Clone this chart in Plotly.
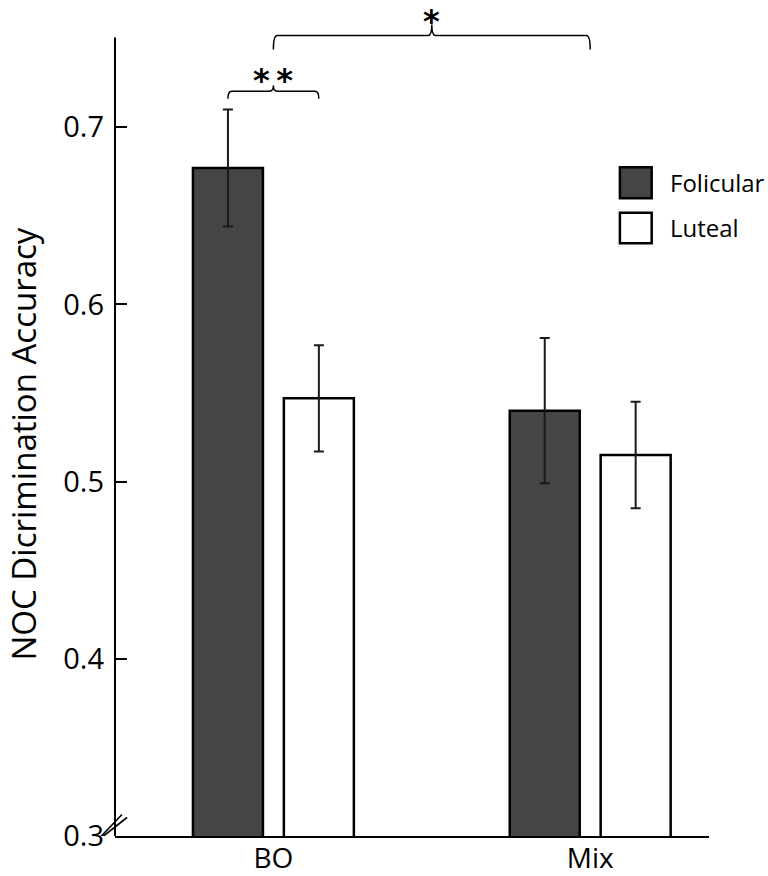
import plotly.graph_objects as go

categories = ["BO", "Mix"]
series_names = ["Folicular", "Luteal"]
folicular = [0.677, 0.540]
folicular_err = [0.033, 0.041]
luteal = [0.547, 0.515]
luteal_err = [0.030, 0.030]
y_ticks = [0.3, 0.4, 0.5, 0.6, 0.7]
y_tick_labels = ["0.3", "0.4", "0.5", "0.6", "0.7"]
y_title = "NOC Dicrimination Accuracy"

FONT = "Open Sans"
STAR_FONT = "DejaVu Sans"
BARGAP = 0.426
BARGROUPGAP = 0.23
slot = (1 - BARGAP) / 2
xpos = list(range(len(categories)))

fig = go.Figure()
fig.add_trace(go.Bar(
    x=xpos, y=folicular, name=series_names[0],
    marker=dict(color="#454545", line=dict(color="black", width=2.5)),
    error_y=dict(type="data", array=folicular_err, color="#1a1a1a", thickness=2, width=5),
    showlegend=False,
))
fig.add_trace(go.Bar(
    x=xpos, y=luteal, name=series_names[1],
    marker=dict(color="white", line=dict(color="black", width=2.5)),
    error_y=dict(type="data", array=luteal_err, color="#1a1a1a", thickness=2, width=5),
    showlegend=False,
))

YMIN = 0.3
YMAX = 0.3 + 826 / 1772.0

shapes = []
# y axis line (stops at the top of the data region)
shapes.append(dict(type="line", xref="paper", yref="y", x0=0, x1=0, y0=0.3, y1=0.7506,
                   line=dict(color="black", width=2)))
# axis break marks
for (ax0, ay0, ax1, ay1) in [(-16, -2.5, 7, 21.5), (-12, -0.5, 12, 18.5)]:
    shapes.append(dict(type="line", xref="paper", yref="y",
                       xsizemode="pixel", xanchor=0, ysizemode="pixel", yanchor=0.3,
                       x0=ax0, x1=ax1, y0=ay0, y1=ay1,
                       line=dict(color="black", width=1.6)))


def brace(x0, x1, yline, yend, ytop, rx=0.012):
    xm = (x0 + x1) / 2
    return (f"M{x0},{yend} Q{x0},{yline} {x0 + rx},{yline} "
            f"L{xm - rx},{yline} Q{xm},{yline} {xm},{ytop} "
            f"Q{xm},{yline} {xm + rx},{yline} "
            f"L{x1 - rx},{yline} Q{x1},{yline} {x1},{yend}")


# ** between BO bars
bo_f = xpos[0] - slot / 2
bo_l = xpos[0] + slot / 2
shapes.append(dict(type="path", xref="x", yref="y",
                   path=brace(bo_f, bo_l, 0.7203, 0.7160, 0.7235),
                   line=dict(color="black", width=1.5)))
# * between BO and Mix
shapes.append(dict(type="path", xref="x", yref="y",
                   path=brace(xpos[0], xpos[1], 0.7517, 0.7438, 0.7580),
                   line=dict(color="black", width=1.5)))

# custom legend boxes
legend_fills = ["#454545", "white"]
legend_boxes = [(0.8095, 0.772), (0.7546, 0.7176)]
annotations = []
for name, fill, (yt, yb) in zip(series_names, legend_fills, legend_boxes):
    shapes.append(dict(type="rect", xref="paper", yref="paper",
                       x0=0.850, x1=0.9035, y0=yb, y1=yt,
                       fillcolor=fill, line=dict(color="black", width=2.5)))
    annotations.append(dict(xref="paper", yref="paper", x=0.931, y=(yt + yb) / 2,
                            text=name, showarrow=False, xanchor="left", yanchor="middle",
                            font=dict(family=FONT, size=24, color="black")))

annotations.append(dict(xref="x", yref="y", x=(bo_f + bo_l) / 2, y=0.7235,
                        text="<b>*\u2009*</b>", yshift=27,
                        showarrow=False, xanchor="center", yanchor="top",
                        font=dict(family=STAR_FONT, size=32, color="black")))
annotations.append(dict(xref="x", yref="y", x=(xpos[0] + xpos[1]) / 2, y=0.7580,
                        text="<b>*</b>", yshift=24,
                        showarrow=False, xanchor="center", yanchor="top",
                        font=dict(family=STAR_FONT, size=32, color="black")))
# y-axis title
annotations.append(dict(xref="paper", yref="paper", x=-0.154, y=0.4746, text=y_title,
                        textangle=-90, showarrow=False, xanchor="center", yanchor="middle",
                        font=dict(family=FONT, size=33, color="black")))

fig.update_layout(
    width=768, height=876,
    margin=dict(l=115, r=59, t=10, b=40),
    paper_bgcolor="white", plot_bgcolor="white",
    barmode="group", bargap=BARGAP, bargroupgap=BARGROUPGAP,
    shapes=shapes, annotations=annotations,
    font=dict(family=FONT, color="black"),
)
fig.update_xaxes(
    range=[-0.5, 1.375], tickvals=xpos, ticktext=categories,
    showline=True, linecolor="black", linewidth=2, ticks="",
    showgrid=False, zeroline=False, tickfont=dict(family=FONT, size=28, color="black"),
    ticklabelstandoff=-4, automargin=False,
)
fig.update_yaxes(
    range=[YMIN, YMAX], tickvals=y_ticks, ticktext=y_tick_labels,
    showline=False, ticks="inside", ticklen=12, tickwidth=2, tickcolor="black",
    showgrid=False, zeroline=False, tickfont=dict(family=FONT, size=29, color="black"),
    ticklabelstandoff=10, automargin=False,
)

fig.write_html("out.html", post_script="document.body.style.margin='0';",
               config={"displayModeBar": False})
